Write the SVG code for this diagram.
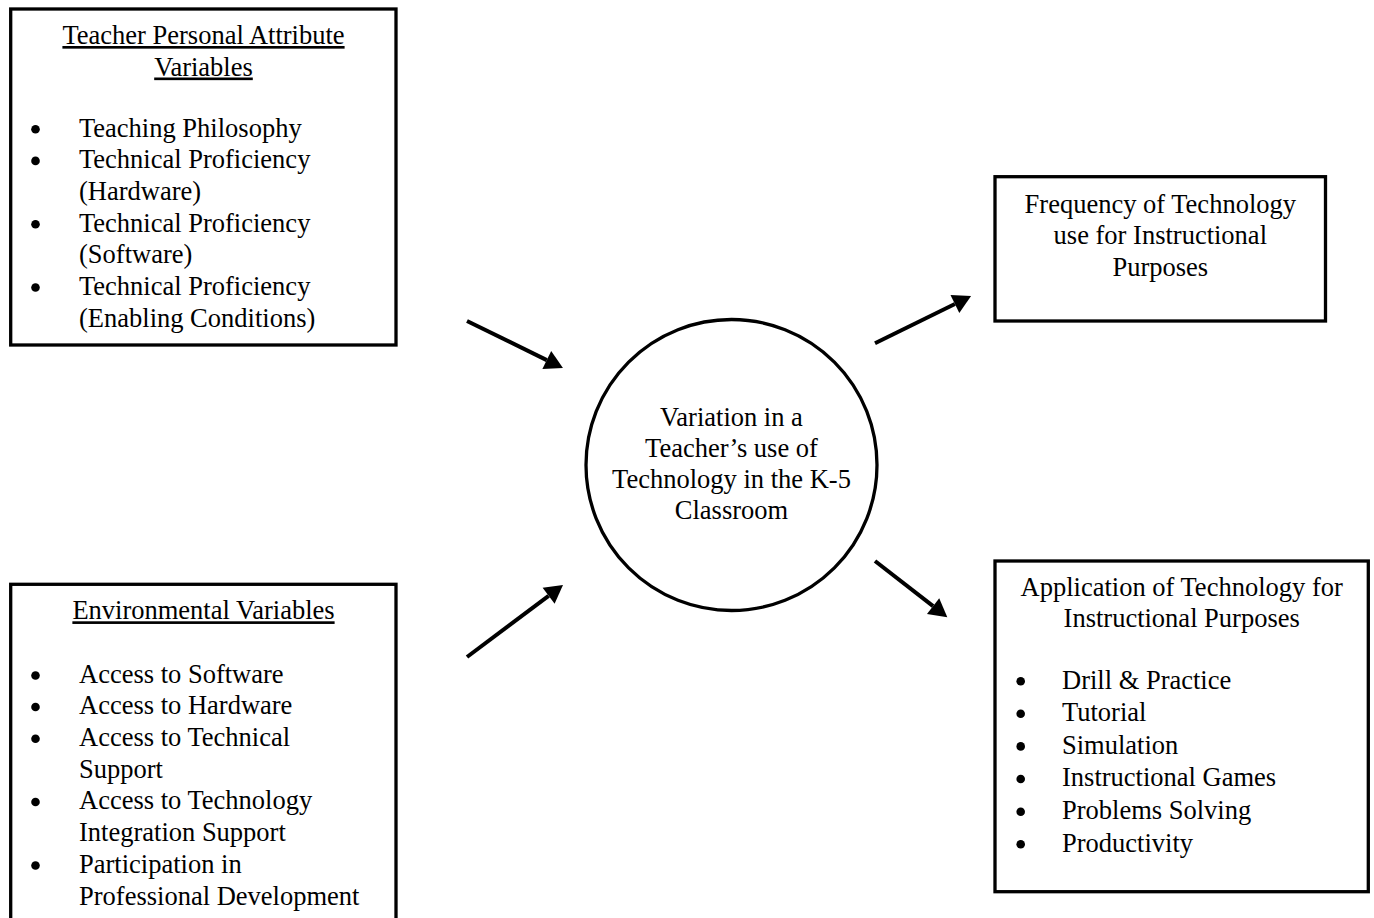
<svg xmlns="http://www.w3.org/2000/svg" width="1374" height="918" viewBox="0 0 1374 918">
<style>
.box{fill:#fff;stroke:#000;stroke-width:3.3}
.t{font-family:"Liberation Serif","Times New Roman",serif;font-size:26.5px;fill:#000}
.c{text-anchor:middle}
.u{text-decoration:underline}
.b{fill:#000}
.arr{stroke:#000;stroke-width:4;fill:none;marker-end:url(#ah)}
</style>
<defs>
<marker id="ah" markerUnits="userSpaceOnUse" markerWidth="18" markerHeight="20" refX="0" refY="10" orient="auto" overflow="visible">
<path d="M0,0 L18,10 L0,20 z" fill="#000"/>
</marker>
</defs>
<rect width="1374" height="918" fill="#fff"/>
<g id="teacher-attributes">
<rect class="box" x="10.7" y="9" width="385.3" height="336"/>
<text class="t c u" x="203.5" y="44">Teacher Personal Attribute</text>
<text class="t c u" x="203.5" y="75.5">Variables</text>
<circle class="b" cx="35.5" cy="129.2" r="4.3"/>
<circle class="b" cx="35.5" cy="160.9" r="4.3"/>
<circle class="b" cx="35.5" cy="224.2" r="4.3"/>
<circle class="b" cx="35.5" cy="287.5" r="4.3"/>
<text class="t" x="79" y="136.7">Teaching Philosophy</text>
<text class="t" x="79" y="168.4">Technical Proficiency</text>
<text class="t" x="79" y="200">(Hardware)</text>
<text class="t" x="79" y="231.7">Technical Proficiency</text>
<text class="t" x="79" y="263.4">(Software)</text>
<text class="t" x="79" y="295">Technical Proficiency</text>
<text class="t" x="79" y="326.7">(Enabling Conditions)</text>
</g>
<g id="environmental">
<rect class="box" x="10.7" y="584.3" width="385.3" height="400"/>
<text class="t c u" x="203.5" y="619.3">Environmental Variables</text>
<circle class="b" cx="35.5" cy="675.5" r="4.3"/>
<circle class="b" cx="35.5" cy="707" r="4.3"/>
<circle class="b" cx="35.5" cy="738.7" r="4.3"/>
<circle class="b" cx="35.5" cy="802" r="4.3"/>
<circle class="b" cx="35.5" cy="865.5" r="4.3"/>
<text class="t" x="79" y="682.7">Access to Software</text>
<text class="t" x="79" y="714.3">Access to Hardware</text>
<text class="t" x="79" y="746">Access to Technical</text>
<text class="t" x="79" y="777.7">Support</text>
<text class="t" x="79" y="809.4">Access to Technology</text>
<text class="t" x="79" y="841">Integration Support</text>
<text class="t" x="79" y="872.8">Participation in</text>
<text class="t" x="79" y="904.5">Professional Development</text>
</g>
<g id="variation">
<circle cx="731.5" cy="465" r="145.5" fill="#fff" stroke="#000" stroke-width="3.3"/>
<text class="t c" x="731.5" y="425.5">Variation in a</text>
<text class="t c" x="731.5" y="456.5">Teacher’s use of</text>
<text class="t c" x="731.5" y="487.5">Technology in the K-5</text>
<text class="t c" x="731.5" y="518.5">Classroom</text>
</g>
<g id="frequency">
<rect class="box" x="995" y="176.7" width="330.5" height="144.3"/>
<text class="t c" x="1160.3" y="213">Frequency of Technology</text>
<text class="t c" x="1160.3" y="244.3">use for Instructional</text>
<text class="t c" x="1160.3" y="275.5">Purposes</text>
</g>
<g id="application">
<rect class="box" x="995" y="561" width="373.3" height="330.7"/>
<text class="t c" x="1181.7" y="596">Application of Technology for</text>
<text class="t c" x="1181.7" y="627">Instructional Purposes</text>
<circle class="b" cx="1020.7" cy="681.2" r="4.3"/>
<circle class="b" cx="1020.7" cy="713.8" r="4.3"/>
<circle class="b" cx="1020.7" cy="746.4" r="4.3"/>
<circle class="b" cx="1020.7" cy="779" r="4.3"/>
<circle class="b" cx="1020.7" cy="811.7" r="4.3"/>
<circle class="b" cx="1020.7" cy="844.3" r="4.3"/>
<text class="t" x="1062" y="688.5">Drill &amp; Practice</text>
<text class="t" x="1062" y="721">Tutorial</text>
<text class="t" x="1062" y="753.7">Simulation</text>
<text class="t" x="1062" y="786.3">Instructional Games</text>
<text class="t" x="1062" y="819">Problems Solving</text>
<text class="t" x="1062" y="851.6">Productivity</text>
</g>
<g id="connectors">
<line class="arr" x1="467" y1="321" x2="546.8" y2="360.1"/>
<line class="arr" x1="467" y1="657" x2="548.6" y2="595.8"/>
<line class="arr" x1="875" y1="343.3" x2="954.9" y2="304"/>
<line class="arr" x1="875" y1="561" x2="933.1" y2="606.2"/>
</g>
</svg>
